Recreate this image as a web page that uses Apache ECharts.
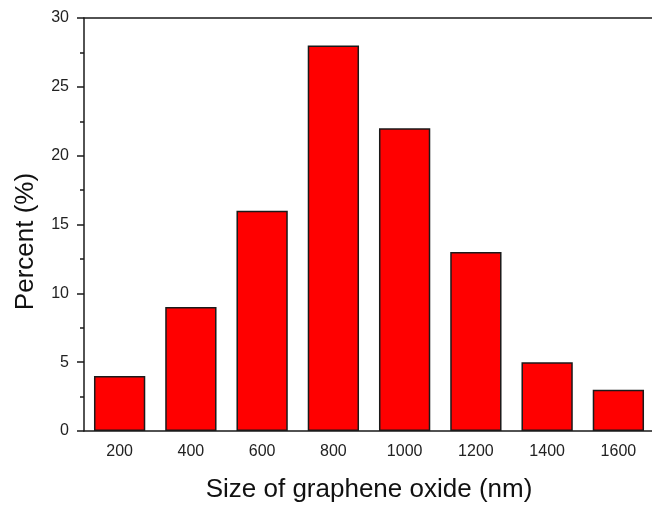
<!DOCTYPE html>
<html>
<head>
<meta charset="utf-8">
<script src="https://cdn.jsdelivr.net/npm/echarts@6/dist/echarts.min.js"></script>
<style>
  html, body { margin: 0; padding: 0; background: #fff; }
  #chart { width: 652px; height: 508px; }
</style>
</head>
<body>
<div id="chart"></div>
<script>
// size bins (nm) and percent per bin
var sizes = ['200', '400', '600', '800', '1000', '1200', '1400', '1600'];
var percent = [4, 9, 16, 28, 22, 13, 5, 3];

var font = 'Liberation Sans, Arial, sans-serif';
var chart = echarts.init(document.getElementById('chart'));

chart.setOption({
  backgroundColor: '#fff',
  animation: false,
  grid: {
    top: 18,
    left: 84,
    right: -2,
    bottom: 77,
    outerBoundsMode: 'none',
    containLabel: false
  },
  xAxis: [
    {
      type: 'category',
      data: sizes,
      boundaryGap: true,
      axisLine: { lineStyle: { color: '#1a1a1a', width: 1.5 } },
      axisTick: { alignWithLabel: true, inside: false, length: 7, lineStyle: { color: '#1a1a1a', width: 1.5 } },
      axisLabel: { fontFamily: font, fontSize: 16, color: '#222', margin: 13 },
      name: 'Size of graphene oxide (nm)',
      nameLocation: 'middle',
      nameGap: 46,
      nameTextStyle: { fontFamily: font, fontSize: 26, color: '#111' }
    },
    {
      // minor ticks on bin boundaries
      type: 'category',
      data: sizes,
      position: 'bottom',
      boundaryGap: true,
      axisLine: { show: false },
      axisTick: { length: 4, lineStyle: { color: '#1a1a1a', width: 1.5 } },
      axisLabel: { show: false }
    },
    {
      // top frame line
      type: 'category',
      data: sizes,
      position: 'top',
      axisLine: { show: true, lineStyle: { color: '#1a1a1a', width: 1.5 } },
      axisTick: { show: false },
      axisLabel: { show: false }
    }
  ],
  yAxis: {
    type: 'value',
    min: 0,
    max: 30,
    interval: 5,
    splitLine: { show: false },
    axisLine: { show: true, lineStyle: { color: '#1a1a1a', width: 1.5 } },
    axisTick: { show: true, length: 7, lineStyle: { color: '#1a1a1a', width: 1.5 } },
    minorTick: { show: true, splitNumber: 2, length: 4, lineStyle: { color: '#1a1a1a', width: 1.5 } },
    axisLabel: { fontFamily: font, fontSize: 16, color: '#222', margin: 15 },
    name: 'Percent (%)',
    nameLocation: 'middle',
    nameGap: 45,
    nameRotate: 90,
    nameTextStyle: { fontFamily: font, fontSize: 26, color: '#111', padding: [0, 34, 0, 0] }
  },
  series: [
    {
      type: 'bar',
      data: percent,
      xAxisIndex: 0,
      barWidth: '72%',
      itemStyle: { color: '#ff0000', borderColor: '#1a1a1a', borderWidth: 1.5 }
    }
  ]
});
</script>
</body>
</html>
